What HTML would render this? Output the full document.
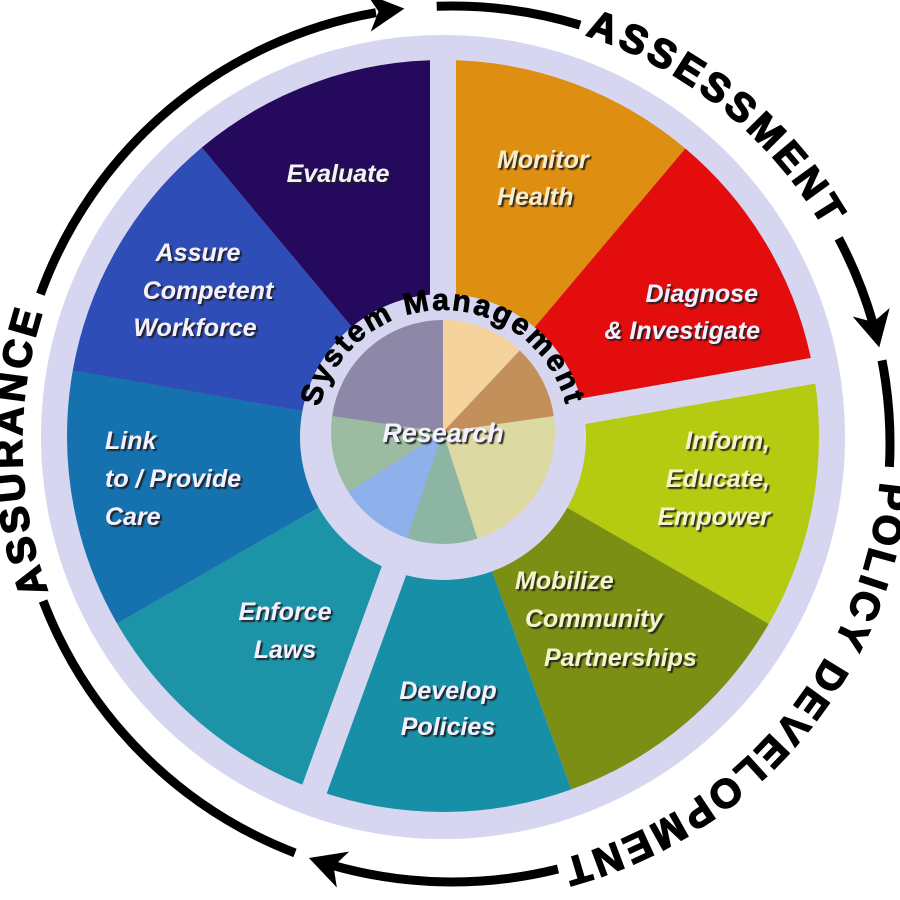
<!DOCTYPE html>
<html><head><meta charset="utf-8"><style>
html,body{margin:0;padding:0;background:#fff;}
svg{display:block;}
.lb{font-family:"Liberation Sans",sans-serif;font-weight:bold;font-style:italic;font-size:25px;fill:#f4f0ff;filter:url(#sh);}
.ot{font-family:"Liberation Sans",sans-serif;font-weight:bold;font-size:40px;fill:#000;stroke:#000;stroke-width:1.6px;}
</style></head><body>
<svg width="900" height="900" viewBox="0 0 900 900" xmlns="http://www.w3.org/2000/svg">
<defs>
<filter id="sh" x="-10%" y="-20%" width="130%" height="150%"><feDropShadow dx="2" dy="2" stdDeviation="0.6" flood-color="#1a1a1a" flood-opacity="0.9"/></filter>
<path id="outer" d="M452,874 A430,430 0 1,1 452,14 A430,430 0 1,1 452,874"/>
<path id="inner" d="M316,437 A127,127 0 1,1 570,437 A127,127 0 1,1 316,437"/>
</defs>
<rect width="900" height="900" fill="#fff"/>
<circle cx="443" cy="437" r="402" fill="#d7d6f0"/>
<g fill="none" stroke-width="376">
<circle cx="443" cy="436" r="188" stroke="#de8e10" stroke-dasharray="131.3 1049.94" stroke-dashoffset="-885.9"/>
<circle cx="443" cy="436" r="188" stroke="#e30d0d" stroke-dasharray="131.3 1049.94" stroke-dashoffset="-1017.2"/>
<circle cx="443" cy="436" r="188" stroke="#b4cb12" stroke-dasharray="131.3 1049.94" stroke-dashoffset="-1148.4"/>
<circle cx="443" cy="436" r="188" stroke="#7b8f14" stroke-dasharray="131.3 1049.94" stroke-dashoffset="-98.4"/>
<circle cx="443" cy="436" r="188" stroke="#178fa6" stroke-dasharray="131.3 1049.94" stroke-dashoffset="-229.7"/>
<circle cx="443" cy="436" r="188" stroke="#1c93a6" stroke-dasharray="131.3 1049.94" stroke-dashoffset="-360.9"/>
<circle cx="443" cy="436" r="188" stroke="#1572ae" stroke-dasharray="131.3 1049.94" stroke-dashoffset="-492.2"/>
<circle cx="443" cy="436" r="188" stroke="#2e4db7" stroke-dasharray="131.3 1049.94" stroke-dashoffset="-623.4"/>
<circle cx="443" cy="436" r="188" stroke="#24095c" stroke-dasharray="131.3 1049.94" stroke-dashoffset="-754.7"/>
</g>
<g fill="#d7d6f0" transform="translate(443,436)">
<rect x="0" y="-13" width="385" height="26" transform="rotate(-90)"/>
<rect x="0" y="-13" width="385" height="26" transform="rotate(-10)"/>
<rect x="0" y="-13" width="385" height="26" transform="rotate(110)"/>
</g>
<circle cx="443" cy="437" r="143" fill="#d7d6f0"/>
<g fill="none" stroke-width="112">
<circle cx="443" cy="432" r="56" stroke="#8e88a8" stroke-dasharray="80.2 271.66" stroke-dashoffset="-183.4"/>
<circle cx="443" cy="432" r="56" stroke="#f4d39c" stroke-dasharray="42.0 309.86" stroke-dashoffset="-263.9"/>
<circle cx="443" cy="432" r="56" stroke="#c38f5b" stroke-dasharray="37.6 314.26" stroke-dashoffset="-305.9"/>
<circle cx="443" cy="432" r="56" stroke="#dcd9a3" stroke-dasharray="79.2 272.66" stroke-dashoffset="-343.5"/>
<circle cx="443" cy="432" r="56" stroke="#8db5a4" stroke-dasharray="36.2 315.66" stroke-dashoffset="-70.4"/>
<circle cx="443" cy="432" r="56" stroke="#8eb1ec" stroke-dasharray="38.6 313.26" stroke-dashoffset="-106.1"/>
<circle cx="443" cy="432" r="56" stroke="#9cbba0" stroke-dasharray="39.6 312.26" stroke-dashoffset="-144.2"/>
</g>
<text font-family="Liberation Sans,sans-serif" font-weight="bold" font-size="30" fill="#000" stroke="#000" stroke-width="0.8"><textPath href="#inner" startOffset="30" textLength="336" lengthAdjust="spacing">System Management</textPath></text>
<text class="lb" x="443" y="442" text-anchor="middle" style="font-size:27px">Research</text>

<text class="lb" x="338" y="182" text-anchor="middle">Evaluate</text>
<text class="lb" x="497" y="168" style="fill:#f8ecc8">Monitor</text>
<text class="lb" x="497" y="205" style="fill:#f8ecc8">Health</text>
<text class="lb" x="758" y="302" text-anchor="end">Diagnose</text>
<text class="lb" x="760" y="339" text-anchor="end">&amp; Investigate</text>
<text class="lb" x="198" y="261" text-anchor="middle">Assure</text>
<text class="lb" x="208" y="299" text-anchor="middle">Competent</text>
<text class="lb" x="195" y="336" text-anchor="middle">Workforce</text>
<text class="lb" x="105" y="449">Link</text>
<text class="lb" x="105" y="487">to / Provide</text>
<text class="lb" x="105" y="525">Care</text>
<text class="lb" x="770" y="449" text-anchor="end" style="fill:#f4f4c8">Inform,</text>
<text class="lb" x="770" y="487" text-anchor="end" style="fill:#f4f4c8">Educate,</text>
<text class="lb" x="770" y="525" text-anchor="end" style="fill:#f4f4c8">Empower</text>
<text class="lb" x="515" y="589" style="fill:#f4f4c8">Mobilize</text>
<text class="lb" x="525" y="627" style="fill:#f4f4c8">Community</text>
<text class="lb" x="544" y="666" style="fill:#f4f4c8">Partnerships</text>
<text class="lb" x="448" y="699" text-anchor="middle">Develop</text>
<text class="lb" x="448" y="735" text-anchor="middle">Policies</text>
<text class="lb" x="285" y="620" text-anchor="middle">Enforce</text>
<text class="lb" x="285" y="658" text-anchor="middle">Laws</text>

<g fill="none" stroke="#000" stroke-width="9">
<path d="M40.4,294.2 A438,438 0 0,1 376.0,12.7"/>
<path d="M436.7,6.3 A438,438 0 0,1 580.1,25.1"/>
<path d="M838.7,238.4 A438,438 0 0,1 873.0,323.3"/>
<path d="M882.0,360.4 A438,438 0 0,1 889.4,466.9"/>
<path d="M558.0,869.0 A438,438 0 0,1 331.3,865.0"/>
<path d="M295.0,852.9 A438,438 0 0,1 43.1,601.0"/>
</g>
<g fill="#000">
<polygon points="2,0 -34,-19 -24,0 -34,19" transform="translate(402.4,8.8) rotate(353.5)"/>
<polygon points="2,0 -34,-19 -24,0 -34,19" transform="translate(878.8,345.4) rotate(77)"/>
<polygon points="2,0 -34,-19 -24,0 -34,19" transform="translate(310.8,858.6) rotate(198.8)"/>
</g>
<text class="ot"><textPath href="#outer" startOffset="525" textLength="283" lengthAdjust="spacing">ASSURANCE</textPath></text>
<text class="ot"><textPath href="#outer" startOffset="1486" textLength="312" lengthAdjust="spacing">ASSESSMENT</textPath></text>
<text class="ot"><textPath href="#outer" startOffset="2064" textLength="525" lengthAdjust="spacing">POLICY DEVELOPMENT</textPath></text>
</svg>
</body></html>
